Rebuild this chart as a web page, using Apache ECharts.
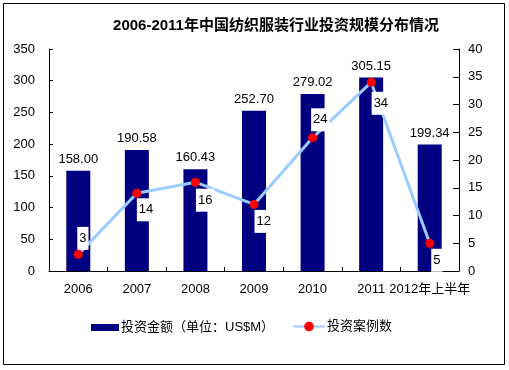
<!DOCTYPE html>
<html><head><meta charset="utf-8">
<script src="https://cdn.jsdelivr.net/npm/echarts@6/dist/echarts.min.js"></script>
<style>html,body{margin:0;padding:0;background:#fff}#c{width:509px;height:370px}</style>
</head><body><div id="c"></div>
<script>
const categories = ['2006','2007','2008','2009','2010','2011','2012年上半年'];
const investAmount = [158.00, 190.58, 160.43, 252.70, 279.02, 305.15, 199.34];
const caseCount = [3, 14, 16, 12, 24, 34, 5];
const leftTicks = [0, 50, 100, 150, 200, 250, 300, 350];
const rightTicks = [0, 5, 10, 15, 20, 25, 30, 35, 40];

const FONT = '"Liberation Sans", Arial, "Noto Sans CJK SC", sans-serif';
const labelOffsets = [[3.5,-23],[4.5,9.5],[5,11],[5,10],[3,-25],[5,14],[6,10]];

const chart = echarts.init(document.getElementById('c'), null, {renderer:'canvas'});
chart.setOption({
  animation:false,
  textStyle:{fontFamily:FONT},
  title:{text:'2006-2011年中国纺织服装行业投资规模分布情况', left:271, textAlign:'center', top:13,
    textStyle:{fontSize:15, fontWeight:'bold', color:'#000', fontFamily:FONT}},
  graphic:[{type:'rect', shape:{x:3.5,y:3.5,width:501,height:361}, style:{fill:'none', stroke:'#000', lineWidth:1}, silent:true}],
  grid:{left:49, right:50, top:49, bottom:99},
  legend:[
    {data:[{name:'投资金额（单位：US$M）', icon:'rect'}], left:86, top:316, itemWidth:28, itemHeight:7, itemGap:2,
      textStyle:{fontSize:13, color:'#000', fontFamily:FONT, padding:[0,0,0,-3]}},
    {data:['投资案例数'], left:287, top:315, itemWidth:32, itemHeight:12,
      textStyle:{fontSize:13, color:'#000', fontFamily:FONT, padding:[0,0,0,-3]}}
  ],
  xAxis:{type:'category', data:categories,
    axisLine:{lineStyle:{color:'#000', width:1}},
    axisTick:{show:true, inside:true, length:4, alignWithLabel:false, lineStyle:{color:'#000'}},
    axisLabel:{color:'#000', fontSize:13, margin:12, interval:0, fontFamily:FONT}},
  yAxis:[
    {type:'value', min:0, max:350, interval:50, position:'left',
      axisLine:{show:true, lineStyle:{color:'#000'}},
      axisTick:{show:true, inside:true, length:4, lineStyle:{color:'#000'}},
      splitLine:{show:false},
      axisLabel:{color:'#000', fontSize:13, margin:14, fontFamily:FONT,
        formatter:(v)=> leftTicks.includes(v) ? String(v) : ''}},
    {type:'value', min:0, max:40, interval:5, position:'right',
      axisLine:{show:true, lineStyle:{color:'#000'}},
      axisTick:{show:true, inside:true, length:6, lineStyle:{color:'#000'}},
      splitLine:{show:false},
      axisLabel:{color:'#000', fontSize:13, margin:9, fontFamily:FONT,
        formatter:(v)=> rightTicks.includes(v) ? String(v) : ''}}
  ],
  series:[
    {name:'投资金额（单位：US$M）', type:'bar', yAxisIndex:0, data:investAmount, barWidth:24,
      itemStyle:{color:'#000080'},
      label:{show:true, position:'top', distance:5, color:'#000', fontSize:13, fontFamily:FONT,
        formatter:(p)=>p.value.toFixed(2)}},
    {name:'投资案例数', type:'line', yAxisIndex:1, z:5,
      data:caseCount.map((v,i)=>({value:v, label:{position:labelOffsets[i]}})),
      lineStyle:{color:'#99CCFF', width:3},
      itemStyle:{color:'#FF0000'},
      symbol:'circle', symbolSize:9, showAllSymbol:true,
      label:{show:true, color:'#000', fontSize:13, fontFamily:FONT, backgroundColor:'#fff',
        padding:[5,2], lineHeight:13}}
  ]
});
</script></body></html>
